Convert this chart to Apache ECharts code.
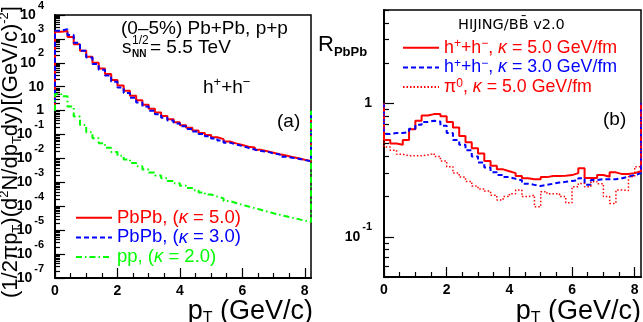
<!DOCTYPE html>
<html><head><meta charset="utf-8">
<script src="https://cdn.jsdelivr.net/npm/echarts@6/dist/echarts.min.js"></script>
<style>html,body{margin:0;padding:0;background:#fff}#c{width:643px;height:322px}</style>
</head><body><div id="c"></div>
<script>
// ---------------- data ----------------
const BIN_WIDTH = 0.2;           // GeV/c, histogram bin width
const N_BINS = 41;               // 0 .. 8.2 GeV/c
const ptEdges = Array.from({length: N_BINS + 1}, (_, i) => Math.round(i * BIN_WIDTH * 10) / 10);
const EDGE_LEVEL = 1;            // level the histogram outlines reach at both ends

// (a) invariant yields, bins 0.1 ... 8.1 GeV/c (centres)
const spectraPbPbK5 = [2000, 2140, 1200, 600, 316, 178, 100, 57.5, 33.9, 19.1,
  11.2, 6.76, 4.17, 2.69, 1.78, 1.20, 0.832, 0.603, 0.437, 0.324,
  0.245, 0.191, 0.148, 0.117, 0.0955, 0.0776, 0.0646, 0.0513, 0.0427, 0.0363,
  0.0309, 0.0285, 0.0229, 0.0200, 0.0174, 0.0151, 0.0132, 0.0115, 0.0102, 0.0089, 0.0078];
const spectraPbPbK3 = [2220, 2570, 1470, 690, 319, 166, 89.5, 51.2, 29.8, 16.2,
  9.23, 5.48, 3.42, 2.2, 1.48, 1.0, 0.705, 0.51, 0.383, 0.293,
  0.22, 0.171, 0.134, 0.106, 0.085, 0.0688, 0.0567, 0.0459, 0.0386, 0.0331,
  0.0276, 0.0235, 0.0204, 0.0192, 0.0162, 0.0145, 0.0117, 0.0107, 0.0098, 0.0086, 0.0076];
const spectraPP = [5.0, 3.98, 1.48, 0.562, 0.251, 0.126, 0.0708, 0.0437, 0.0282, 0.0186,
  0.0129, 0.00912, 0.00646, 0.00468, 0.00347, 0.00257, 0.00195, 0.00148, 0.00115, 0.000912,
  0.000724, 0.000575, 0.000468, 0.00038, 0.000309, 0.000257, 0.000214, 1.66e-4, 1.38e-4, 1.15e-4,
  9.8e-5, 8.3e-5, 7.1e-5, 6.0e-5, 5.1e-5, 4.4e-5, 3.8e-5, 3.3e-5, 2.9e-5, 2.5e-5, 2.2e-5];

// (b) nuclear modification factors
const raaHK5 = [0.53, 0.50, 0.49, 0.53, 0.64, 0.74, 0.81, 0.83, 0.83, 0.80,
  0.725, 0.66, 0.57, 0.51, 0.46, 0.42, 0.37, 0.34, 0.32, 0.31,
  0.30, 0.285, 0.275, 0.27, 0.27, 0.28, 0.285, 0.285, 0.287, 0.29,
  0.30, 0.326, 0.276, 0.276, 0.29, 0.282, 0.304, 0.295, 0.295, 0.30, 0.31];
const raaHK3 = [0.59, 0.60, 0.60, 0.61, 0.645, 0.69, 0.725, 0.74, 0.73, 0.68,
  0.60, 0.53, 0.49, 0.445, 0.40, 0.36, 0.33, 0.305, 0.29, 0.28,
  0.272, 0.265, 0.25, 0.245, 0.24, 0.245, 0.25, 0.255, 0.258, 0.262,
  0.265, 0.275, 0.245, 0.266, 0.27, 0.27, 0.27, 0.275, 0.282, 0.29, 0.30];
const raaPi0K5 = [0.47, 0.445, 0.415, 0.405, 0.405, 0.405, 0.41, 0.42, 0.40, 0.37,
  0.335, 0.30, 0.28, 0.26, 0.24, 0.228, 0.22, 0.205, 0.189, 0.20,
  0.21, 0.224, 0.20, 0.205, 0.168, 0.218, 0.21, 0.21, 0.20, 0.18,
  0.237, 0.251, 0.237, 0.259, 0.25, 0.20, 0.178, 0.224, 0.222, 0.282, 0.335];

// axes / ticks
const X_MIN = 0, X_MAX = 8.2;
const xTickValues = [0, 2, 4, 6, 8];
const xMinorTicks = [0.5, 1, 1.5, 2.5, 3, 3.5, 4.5, 5, 5.5, 6.5, 7, 7.5];
const LEFT_Y_MIN = 1e-7, LEFT_Y_MAX = 1e4;
const RIGHT_Y_MIN = 0.05, RIGHT_Y_MAX = 5;
const leftDecades = [1e-7, 1e-6, 1e-5, 1e-4, 1e-3, 1e-2, 1e-1, 1, 10, 100, 1e3, 1e4];
const rightDecades = [0.1, 1];
const rightMinorDecades = [0.01, 0.1, 1];
const logSubdivisions = [2, 3, 4, 5, 6, 7, 8, 9];

const legendLeft = ['PbPb, (κ = 5.0)', 'PbPb, (κ = 3.0)', 'pp, (κ = 2.0)'];
const legendRight = ['h⁺+h⁻, κ = 5.0 GeV/fm', 'h⁺+h⁻, κ = 3.0 GeV/fm', 'π⁰, κ = 5.0 GeV/fm'];

// ---------------- helpers ----------------
const FONT = '"Liberation Sans", Arial, Helvetica, sans-serif';
const WIDE = '"DejaVu Sans", Verdana, sans-serif';
const RED = '#ff0000', BLUE = '#0000ff', GREEN = '#00ff00', BLACK = '#000';

function histData(values) {
  const d = [[ptEdges[0], EDGE_LEVEL]];
  values.forEach((v, i) => d.push([ptEdges[i + 1], v]));
  d.push([ptEdges[values.length], EDGE_LEVEL]);
  return d;
}
function minorLogTicks(decades, lo, hi) {
  const out = [];
  decades.forEach(d => logSubdivisions.forEach(s => {
    const v = s * d;
    if (v >= lo * 0.999 && v <= hi * 1.001) out.push(Math.log10(v));
  }));
  return out;
}
function decadeLabel(lg) {          // lg = log10(value)
  const e = Math.round(lg);
  if (Math.abs(lg - e) > 1e-6) return '';
  if (e === 0) return '{b|1}';
  if (e === 1) return '{b|10}';
  return '{b|10}{e|' + e + '}';
}
const labelRich = {
  b: {fontSize: 14, fontWeight: 'bold', fontFamily: FONT, color: BLACK, lineHeight: 30},
  e: {fontSize: 11, fontWeight: 'bold', fontFamily: FONT, color: BLACK, lineHeight: 11, verticalAlign: 'top', padding: [0, 0, 0, 2]}
};
const tickLine = {color: BLACK, width: 1.2};

function mainX(grid) {
  return {
    type: 'value', gridIndex: grid, position: 'bottom', offset: 0, min: X_MIN, max: X_MAX,
    axisLine: {onZero: false, lineStyle: {color: BLACK, width: 2}},
    axisTick: {inside: true, length: 10, customValues: xTickValues, lineStyle: tickLine},
    axisLabel: {customValues: xTickValues, fontSize: 14, fontWeight: 'bold', fontFamily: FONT, color: BLACK, margin: 6},
    splitLine: {show: false}
  };
}
function minorX(grid) {
  return {
    type: 'value', gridIndex: grid, position: 'bottom', offset: 0, min: X_MIN, max: X_MAX,
    axisLine: {show: false, onZero: false},
    axisTick: {inside: true, length: 5, customValues: xMinorTicks, lineStyle: tickLine},
    axisLabel: {show: false}, splitLine: {show: false}
  };
}
// data axis (log), draws only the axis line
function mainY(grid, lo, hi) {
  return {
    type: 'log', logBase: 10, gridIndex: grid, position: 'left', offset: 0, min: lo, max: hi,
    axisLine: {onZero: false, lineStyle: {color: BLACK, width: 2}},
    axisTick: {show: false}, axisLabel: {show: false},
    splitLine: {show: false}, minorSplitLine: {show: false}
  };
}
// companion axes in log10 space: decade ticks + labels, and minor ticks
function decadeY(grid, lo, hi, decades, margin) {
  const vals = decades.map(Math.log10);
  return {
    type: 'value', gridIndex: grid, position: 'left', offset: 0, min: Math.log10(lo), max: Math.log10(hi),
    axisLine: {show: false, onZero: false},
    axisTick: {inside: true, length: 10, customValues: vals, lineStyle: tickLine},
    axisLabel: {customValues: vals, formatter: decadeLabel, rich: labelRich, margin: margin},
    splitLine: {show: false}
  };
}
function minorY(grid, lo, hi, ticks) {
  return {
    type: 'value', gridIndex: grid, position: 'left', offset: 0, min: Math.log10(lo), max: Math.log10(hi),
    axisLine: {show: false, onZero: false},
    axisTick: {inside: true, length: 5, customValues: ticks, lineStyle: tickLine},
    axisLabel: {show: false}, splitLine: {show: false}
  };
}
function histSeries(name, values, xi, yi, color, type, width) {
  return {
    name: name, type: 'line', xAxisIndex: xi, yAxisIndex: yi, data: histData(values),
    step: 'start', symbol: 'none', showSymbol: false, clip: true,
    lineStyle: {color: color, width: width, type: type}, itemStyle: {color: color},
    emphasis: {disabled: true}, silent: true
  };
}
const colorKey = {};
colorKey[legendLeft[0]] = 'R'; colorKey[legendLeft[1]] = 'B'; colorKey[legendLeft[2]] = 'G';
colorKey[legendRight[0]] = 'R'; colorKey[legendRight[1]] = 'B'; colorKey[legendRight[2]] = 'R';
const colorOf = {R: RED, B: BLUE, G: GREEN};
const LEG_LH = 19.6;
function legendRichFor(fs) {
  const r = {};
  Object.keys(colorOf).forEach(c => {
    r['k' + c] = {color: colorOf[c], fontSize: fs, fontStyle: 'italic', fontFamily: FONT, lineHeight: LEG_LH};
    r['s' + c] = {color: colorOf[c], fontSize: 12, fontFamily: FONT, lineHeight: 8, verticalAlign: 'top'};
  });
  return r;
}
function legendFormatter(name) {
  const c = colorKey[name];
  return name.replace(/κ/g, '{k' + c + '|κ}').replace(/⁺/g, '{s' + c + '|+}')
             .replace(/⁻/g, '{s' + c + '|−}').replace(/⁰/g, '{s' + c + '|0}');
}
function legendBlock(names, left, top, fs) {
  return {
    orient: 'vertical', left: left, top: top, padding: 0, itemGap: 0,
    itemWidth: 36, itemHeight: 14, selectedMode: false,
    itemStyle: {opacity: 0},
    data: names.map(n => ({name: n, textStyle: {color: colorOf[colorKey[n]]}})),
    formatter: legendFormatter,
    textStyle: {fontSize: fs, fontFamily: FONT, lineHeight: LEG_LH, rich: legendRichFor(fs)}
  };
}
function txt(x, y, text, size, extra) {
  return {type: 'text', x: x, y: y, silent: true, style: Object.assign({
    text: text, fontSize: size, fontFamily: FONT, fill: BLACK, align: 'left', verticalAlign: 'middle'
  }, extra || {})};
}
const subRich = (fs, bold, fam) => ({fontSize: fs, fontFamily: fam || FONT, fontWeight: bold ? 'bold' : 'normal', fill: BLACK, lineHeight: 10, verticalAlign: 'bottom'});
const supRich = (fs) => ({fontSize: fs, fontFamily: FONT, fill: BLACK, lineHeight: 10, verticalAlign: 'top'});

// ---------------- chart ----------------
const chart = echarts.init(document.getElementById('c'), null, {renderer: 'canvas'});
chart.setOption({
  animation: false,
  backgroundColor: '#fff',
  grid: [
    {left: 55, top: 5, width: 256, height: 273, show: true, borderColor: BLACK, borderWidth: 1.5, containLabel: false},
    {left: 384, top: 10, width: 257, height: 267, show: true, borderColor: BLACK, borderWidth: 1.5, containLabel: false}
  ],
  xAxis: [mainX(0), minorX(0), mainX(1), minorX(1)],
  yAxis: [
    mainY(0, LEFT_Y_MIN, LEFT_Y_MAX),
    decadeY(0, LEFT_Y_MIN, LEFT_Y_MAX, leftDecades, 11),
    minorY(0, LEFT_Y_MIN, LEFT_Y_MAX, minorLogTicks(leftDecades, LEFT_Y_MIN, LEFT_Y_MAX)),
    mainY(1, RIGHT_Y_MIN, RIGHT_Y_MAX),
    decadeY(1, RIGHT_Y_MIN, RIGHT_Y_MAX, rightDecades, 12),
    minorY(1, RIGHT_Y_MIN, RIGHT_Y_MAX, minorLogTicks(rightMinorDecades, RIGHT_Y_MIN, RIGHT_Y_MAX))
  ],
  legend: [legendBlock(legendLeft, 75, 208, 18.5), legendBlock(legendRight, 402, 38, 17.8)],
  series: [
    histSeries(legendLeft[0], spectraPbPbK5, 0, 0, RED, 'solid', 2),
    histSeries(legendLeft[1], spectraPbPbK3, 0, 0, BLUE, [5, 3], 2),
    histSeries(legendLeft[2], spectraPP, 0, 0, GREEN, [6, 3, 1.5, 3], 2),
    histSeries(legendRight[0], raaHK5, 2, 3, RED, 'solid', 2),
    histSeries(legendRight[1], raaHK3, 2, 3, BLUE, [5, 3], 2),
    histSeries(legendRight[2], raaPi0K5, 2, 3, RED, [1.5, 2], 1.5)
  ],
  graphic: [
    // y title, panel (a)
    {type: 'text', x: 11, y: 152, rotation: Math.PI / 2, silent: true, style: {
      text: '(1/2πp{sub|T})(d{sup|2}N/dp{sub|T}dy)[(GeV/c){sup|-2}]',
      fontSize: 22, fontFamily: FONT, fill: BLACK, lineHeight: 26, align: 'center', verticalAlign: 'middle',
      rich: {sub: subRich(13), sup: supRich(13)}}},
    // x titles
    txt(313, 312, 'p{sub|T} (GeV/c)', 27, {align: 'right', lineHeight: 30, rich: {sub: subRich(16)}}),
    txt(641, 312, 'p{sub|T} (GeV/c)', 27, {align: 'right', lineHeight: 30, rich: {sub: subRich(16)}}),
    // R_PbPb
    txt(318, 45, 'R{sub|PbPb}', 22, {lineHeight: 28, rich: {sub: subRich(13, true)}}),
    // panel (a) texts
    txt(121, 29, '(0–5%) Pb+Pb, p+p', 19),
    txt(122, 48, 's', 19),
    txt(132, 41, '1/2', 12),
    txt(132, 54, 'NN', 10, {fontWeight: 'bold'}),
    txt(150, 48, '= 5.5 TeV', 19),
    txt(203, 88, 'h{sup|+}+h{sup|−}', 19, {lineHeight: 24, rich: {sup: supRich(13)}}),
    txt(277, 122, '(a)', 19),
    // panel (b) texts
    txt(458, 25, 'HIJING/BB\u0304 v2.0', 14.5, {fontFamily: WIDE}),
    txt(603, 120, '(b)', 19)
  ]
});
</script>
</body></html>
